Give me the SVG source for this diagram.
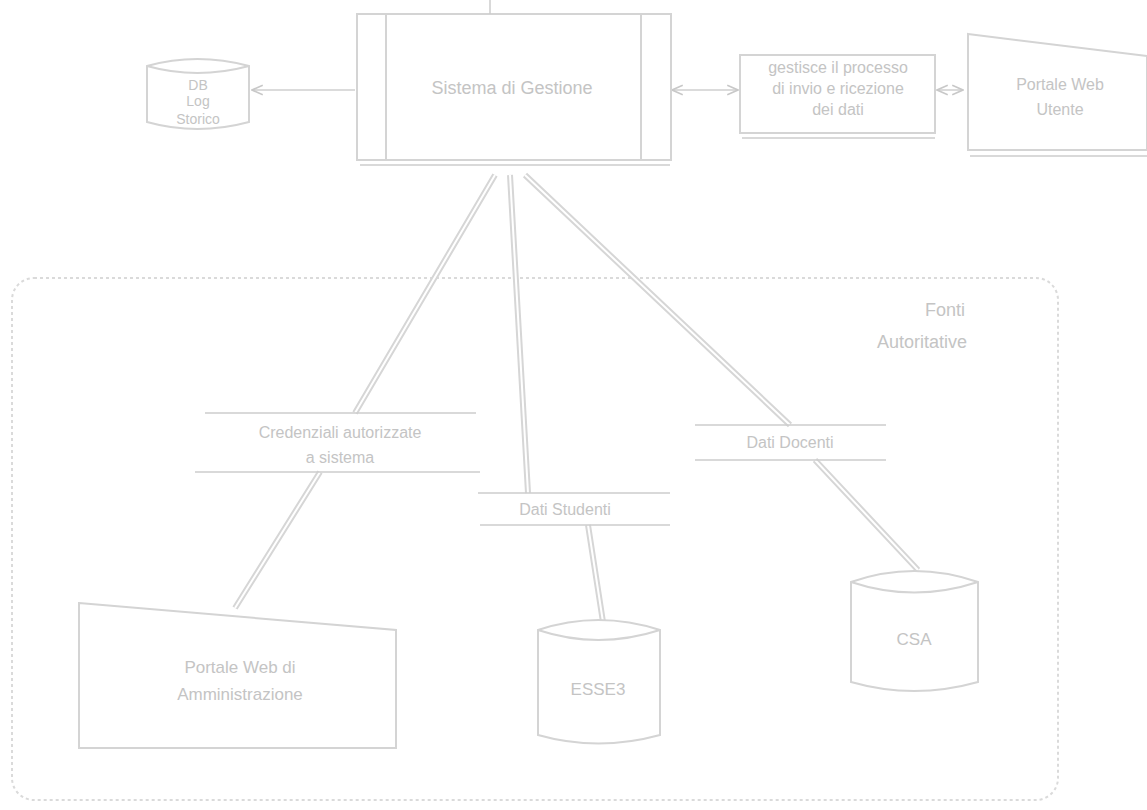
<svg xmlns="http://www.w3.org/2000/svg" width="1147" height="810" viewBox="0 0 1147 810">
<defs>
<marker id="ah" viewBox="0 0 10 10" refX="9" refY="5" markerWidth="8" markerHeight="8" orient="auto-start-reverse"><path d="M0,1 L9,5 L0,9" fill="none" stroke="#c8c8c8" stroke-width="1.5"/></marker>
</defs>
<style>
.s{fill:#fff;stroke:#d4d4d4;stroke-width:2}
.t{font-family:"Liberation Sans",Arial,sans-serif;font-size:16px;fill:#c4c4c4;text-anchor:middle}
.sm{font-size:14px}
.lg{font-size:17px}
.xl{font-size:18px}
.c{stroke:#d6d6d6;stroke-width:6;fill:none}
.ci{stroke:#fff;stroke-width:2;fill:none}
.h{stroke:#cccccc;stroke-width:1.5}
.a{stroke:#cfcfcf;stroke-width:1.5;fill:none}
</style>
<rect width="1147" height="810" fill="#fff"/>
<g id="fonti-autoritative">
<rect x="12" y="278" width="1046" height="522" rx="22" fill="none" stroke="#dadada" stroke-width="2" stroke-dasharray="3 3"/>
<text class="t xl" x="945" y="316">Fonti</text>
<text class="t xl" x="922" y="348">Autoritative</text>
</g>
<g id="connectors">
<line class="a" x1="355" y1="90" x2="252" y2="90" marker-end="url(#ah)"/>
<line class="a" x1="672" y1="90" x2="738" y2="90" marker-start="url(#ah)" marker-end="url(#ah)"/>
<line class="a" x1="937" y1="90" x2="963" y2="90" marker-start="url(#ah)" marker-end="url(#ah)"/>
<path class="c" d="M495,175 L355,413 M320,472 L235,608"/>
<path class="ci" d="M495,175 L355,413 M320,472 L235,608"/>
<path class="c" d="M510,175 L528,493 M588,525 L603,622"/>
<path class="ci" d="M510,175 L528,493 M588,525 L603,622"/>
<path class="c" d="M525,175 L790,425 M815,460 L918,570"/>
<path class="ci" d="M525,175 L790,425 M815,460 L918,570"/>
<line class="h" x1="205" y1="413" x2="476" y2="413"/>
<line class="h" x1="195" y1="472" x2="480" y2="472"/>
<text class="t" x="340" y="438">Credenziali autorizzate</text>
<text class="t" x="340" y="463">a sistema</text>
<line class="h" x1="478" y1="493" x2="670" y2="493"/>
<line class="h" x1="480" y1="525" x2="670" y2="525"/>
<text class="t" x="565" y="515">Dati Studenti</text>
<line class="h" x1="695" y1="425" x2="886" y2="425"/>
<line class="h" x1="695" y1="460" x2="886" y2="460"/>
<text class="t" x="790" y="448">Dati Docenti</text>
</g>
<g id="db-storico">
<path class="s" d="M147,66 Q197,52 249,66 L249,122 Q197,136 147,122 Z"/>
<path class="s" fill="none" d="M147,66 Q197,80 249,66"/>
<text class="t sm" x="198" y="90">DB</text>
<text class="t sm" x="198" y="106">Log</text>
<text class="t sm" x="198" y="124">Storico</text>
</g>
<g id="sistema-gestione">
<rect class="s" x="357" y="14" width="314" height="146"/>
<line class="s" x1="386" y1="14" x2="386" y2="160"/>
<line class="s" x1="641" y1="14" x2="641" y2="160"/>
<line class="h" x1="360" y1="165" x2="670" y2="165"/>
<line class="h" x1="490" y1="0" x2="490" y2="14"/>
<text class="t xl" x="512" y="94">Sistema di Gestione</text>
</g>
<g id="gestore-flusso">
<rect class="s" x="740" y="55" width="195" height="78"/>
<line class="h" x1="742" y1="138" x2="935" y2="138"/>
<text class="t" x="838" y="73">gestisce il processo</text>
<text class="t" x="838" y="94">di invio e ricezione</text>
<text class="t" x="838" y="115">dei dati</text>
</g>
<g id="portale-utente">
<path class="s" d="M968,34 L1147,56 L1147,150 L968,150 Z"/>
<line class="h" x1="970" y1="156" x2="1147" y2="156"/>
<text class="t" x="1060" y="90">Portale Web</text>
<text class="t" x="1060" y="115">Utente</text>
</g>
<g id="portale-amministrazione">
<path class="s" d="M79,603 L396,630 L396,748 L79,748 Z"/>
<text class="t lg" x="240" y="673">Portale Web di</text>
<text class="t lg" x="240" y="700">Amministrazione</text>
</g>
<g id="esse3">
<path class="s" d="M538,630 Q598,610 660,630 L660,735 Q598,752 538,735 Z"/>
<path class="s" fill="none" d="M538,630 Q598,650 660,630"/>
<text class="t lg" x="598" y="695">ESSE3</text>
</g>
<g id="csa">
<path class="s" d="M851,582 Q914,560 978,582 L978,682 Q914,700 851,682 Z"/>
<path class="s" fill="none" d="M851,582 Q914,603 978,582"/>
<text class="t lg" x="914" y="645">CSA</text>
</g>
</svg>
